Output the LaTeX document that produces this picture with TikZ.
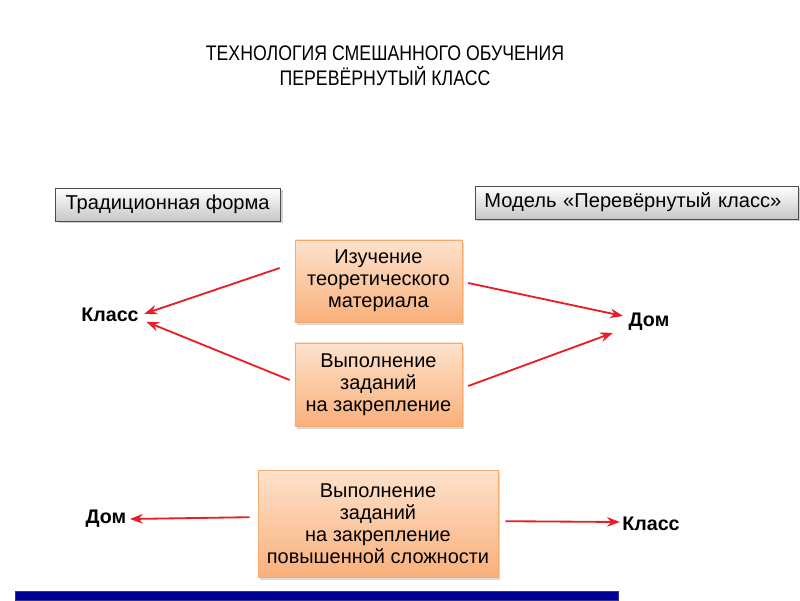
\documentclass[tikz,border=0pt]{standalone}
\usepackage{fontspec}
\setmainfont{Liberation Sans}
\newfontfamily\narrowfont[FakeStretch=0.84]{Liberation Sans}
\usetikzlibrary{arrows.meta,shadows,positioning}

\definecolor{arrowred}{RGB}{232,30,38}
\definecolor{peachtop}{RGB}{253,226,204}
\definecolor{peachbot}{RGB}{249,176,122}
\definecolor{peachline}{RGB}{247,170,110}
\definecolor{barblue}{RGB}{0,0,150}

\begin{document}
\begin{tikzpicture}[
    graybox/.style={rectangle, draw=black!70, thin, top color=white, bottom color=black!22,
        drop shadow={opacity=0.35, shadow xshift=0.06cm, shadow yshift=-0.06cm},
        minimum height=0.825cm, inner sep=0pt, font=\fontsize{14.3}{16}\selectfont},
    peachbox/.style={rectangle, draw=peachline, top color=peachtop, bottom color=peachbot,
        drop shadow={opacity=0.3, shadow xshift=0.05cm, shadow yshift=-0.07cm},
        align=center, inner sep=0pt, font=\fontsize{14.2}{15.6}\selectfont},
    place/.style={font=\fontsize{14}{16}\selectfont\bfseries, inner sep=1pt},
    link/.style={-{Stealth[length=3.2mm,width=2.4mm]}, arrowred, line width=1.3pt}
]
    \useasboundingbox (0,0) rectangle (20,15);

    % Title
    \node[align=center, font=\narrowfont\fontsize{15}{18}\selectfont] (title) at (9.625,13.36)
        {ТЕХНОЛОГИЯ СМЕШАННОГО ОБУЧЕНИЯ\\ПЕРЕВЁРНУТЫЙ КЛАСС};

    % Headers
    \node[graybox, minimum width=5.625cm] (trad) at (4.19,9.89) {Традиционная форма};
    \node[graybox, minimum width=8.075cm, text width=7.6cm, align=left] (model) at (15.91,9.94)
        {Модель «Перевёрнутый класс»};

    % Activities
    \node[peachbox, minimum width=4.175cm, minimum height=2.05cm] (theory) at (9.46,7.975)
        {Изучение\\теоретического\\материала};
    \node[peachbox, minimum width=4.175cm, minimum height=2.075cm] (tasks) at (9.46,5.39)
        {Выполнение\\заданий\\на закрепление};
    \node[peachbox, minimum width=6cm, minimum height=2.675cm] (hard) at (9.45,1.91)
        {Выполнение\\заданий\\на закрепление\\повышенной сложности};

    % Places
    \node[place] (class1) at (2.75,7.125) {Класс};
    \node[place] (home1) at (16.225,6.95) {Дом};
    \node[place] (home2) at (2.65,2.025) {Дом};
    \node[place] (class2) at (16.275,1.9) {Класс};

    % Connections
    \draw[link] ([xshift=-0.375cm,yshift=0.325cm]theory.west) -- ([xshift=0.1cm,yshift=0.03cm]class1.east);
    \draw[link] ([xshift=-0.125cm,yshift=0.11cm]tasks.west) -- ([xshift=0.15cm,yshift=-0.17cm]class1.east);
    \draw[link] ([xshift=0.15cm,yshift=-0.05cm]theory.east) -- ([xshift=-0.1cm,yshift=0.15cm]home1.west);
    \draw[link] ([xshift=0.15cm,yshift=-0.04cm]tasks.east) -- ([xshift=-0.35cm,yshift=-0.27cm]home1.west);
    \draw[link] ([xshift=-0.2cm,yshift=0.16cm]hard.west) -- ([xshift=0.05cm]home2.east);
    \draw[link] ([xshift=0.175cm,yshift=0.06cm]hard.east) -- ([xshift=-0.02cm,yshift=0.05cm]class2.west);

    % Bottom bar
    \fill[barblue, draw=blue!45!black!80] (0.375,0) rectangle (15.45,0.225);
\end{tikzpicture}
\end{document}
